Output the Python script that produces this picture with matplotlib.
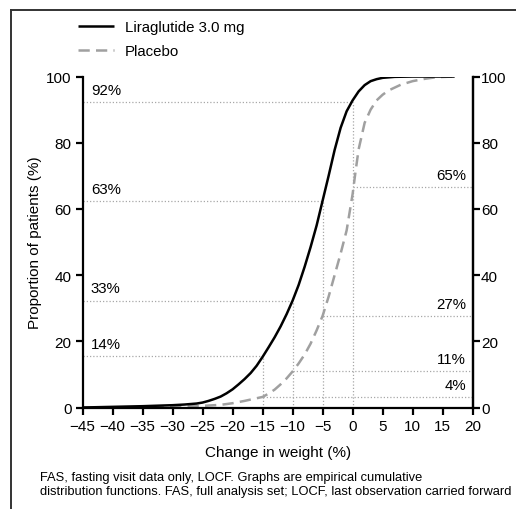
import matplotlib
matplotlib.use("Agg")
import matplotlib.pyplot as plt
from matplotlib.lines import Line2D

plt.rcParams["font.family"] = ["Liberation Sans", "DejaVu Sans"]

# --- data -----------------------------------------------------------------
lira_x = [-45, -40, -35, -30, -28, -26, -25, -24, -23, -22, -21, -20, -19, -18,
          -17, -16, -15, -14, -13, -12, -11, -10, -9, -8, -7, -6, -5, -4, -3,
          -2, -1, 0, 1, 2, 3, 4, 5, 7, 10, 17]
lira_y = [0, 0.2, 0.4, 0.7, 0.9, 1.2, 1.5, 2.0, 2.6, 3.3, 4.3, 5.5, 7.0, 8.6,
          10.4, 12.6, 15.3, 18.2, 21.2, 24.5, 28.2, 32.3, 37.0, 42.5, 48.5, 55.0,
          62.5, 70.0, 77.8, 84.5, 89.5, 92.8, 95.5, 97.4, 98.6, 99.2, 99.6,
          99.9, 100, 100]

plac_x = [-45, -35, -25, -22, -20, -18, -16, -15, -14, -13, -12, -11, -10, -9,
          -8, -7, -6, -5, -4, -3, -2, -1, -0.5, 0, 0.5, 1, 2, 3, 4, 5, 6, 8,
          10, 12, 14, 17]
plac_y = [0, 0.1, 0.5, 0.8, 1.3, 2.0, 2.8, 3.2, 4.2, 5.4, 7.0, 8.8, 10.9, 13.3,
          16.0, 19.3, 23.3, 27.7, 33.5, 40.0, 46.5, 53.5, 59.0, 64.5, 71.5, 78.0,
          86.0, 90.0, 92.8, 94.5, 95.8, 97.5, 98.6, 99.3, 99.8, 100]

cut_x = [0, -5, -10, -15]                 # weight-change thresholds
lira_lvl = [92.3, 62.4, 32.3, 15.6]       # where the dotted lines sit
lira_lbl = ["92%", "63%", "33%", "14%"]
plac_lvl = [66.6, 27.6, 10.9, 3.1]
plac_lbl = ["65%", "27%", "11%", "4%"]

xticks = list(range(-45, 21, 5))
yticks = [0, 20, 40, 60, 80, 100]

# --- figure ----------------------------------------------------------------
fig = plt.figure(figsize=(5.16, 5.10), dpi=100)
ax = fig.add_axes([0.160, 0.199, 0.756, 0.649])
ax.set_xlim(-45, 20)
ax.set_ylim(0, 100)

dot = dict(color="#a8a8a8", lw=0.9, ls=(0, (1, 1.6)), zorder=1)
for xc, yl, yp in zip(cut_x, lira_lvl, plac_lvl):
    ax.plot([-45, xc], [yl, yl], **dot)
    ax.plot([xc, 20], [yp, yp], **dot)
    ax.plot([xc, xc], [0, max(yl, yp)], **dot)
for yl, t in zip(lira_lvl, lira_lbl):
    ax.text(-43.6, yl + 1.6, t, fontsize=10.8, ha="left", va="bottom")
for yp, t in zip(plac_lvl, plac_lbl):
    ax.text(18.9, yp + 1.6, t, fontsize=10.8, ha="right", va="bottom")

l1, = ax.plot(lira_x, lira_y, color="black", lw=1.8, zorder=3,
              solid_capstyle="butt", label="Liraglutide 3.0 mg")
l2, = ax.plot(plac_x, plac_y, color="#a0a0a0", lw=1.8, ls=(0, (4.5, 2.5)),
              zorder=2, label="Placebo")

ax.spines["top"].set_visible(False)
for s in ["left", "bottom", "right"]:
    ax.spines[s].set_linewidth(1.6)
ax.set_xticks(xticks)
ax.set_yticks(yticks)
ax.tick_params(axis="both", direction="out", length=5, width=1.6,
               labelsize=11, pad=3)
ax.set_xlabel("Change in weight (%)", fontsize=11, labelpad=9)
ax.set_ylabel("Proportion of patients (%)", fontsize=11, labelpad=3)

ax2 = ax.twinx()
ax2.set_ylim(0, 100)
ax2.set_yticks(yticks)
ax2.tick_params(axis="y", direction="out", length=5, width=1.6,
                labelsize=11, pad=1)
for s in ["top", "left", "bottom"]:
    ax2.spines[s].set_visible(False)
ax2.spines["right"].set_linewidth(1.6)

fig.legend(handles=[l1, l2], loc="upper left", bbox_to_anchor=(0.125, 0.985),
           frameon=False, fontsize=10.8, handlelength=2.4, handletextpad=0.75,
           labelspacing=0.65)

fig.text(0.077, 0.024,
         "FAS, fasting visit data only, LOCF. Graphs are empirical cumulative\n"
         "distribution functions. FAS, full analysis set; LOCF, last observation carried forward",
         fontsize=9.3, ha="left", va="bottom", linespacing=1.15)

# frame on top and left edges like the source panel
fig.add_artist(Line2D([0.022, 1.0], [0.978, 0.978], color="#333333", lw=1.4,
                      transform=fig.transFigure))
fig.add_artist(Line2D([0.022, 0.022], [0.0, 0.978], color="#333333", lw=1.4,
                      transform=fig.transFigure))

fig.savefig("out.png", dpi=100)
